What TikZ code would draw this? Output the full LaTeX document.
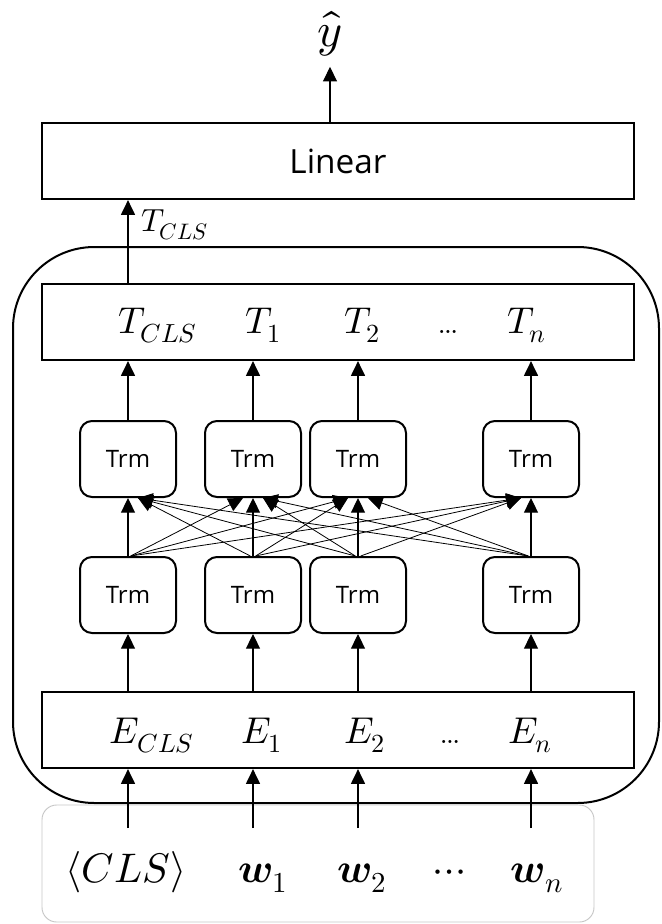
\documentclass[tikz,border=0pt]{standalone}
\usepackage{fontspec}
\usepackage{unicode-math}
\setsansfont{Open Sans}
\setmathfont{Latin Modern Math}
\usetikzlibrary{arrows.meta}

\begin{document}
\begin{tikzpicture}[x=0.75pt,y=-0.75pt,
  wide/.style={draw, line width=1.7pt, minimum width=444pt, minimum height=57pt, inner sep=0pt},
  trm/.style={draw, line width=1.5pt, rounded corners=9pt, minimum width=72pt, minimum height=57pt,
              inner sep=0pt, font=\sffamily\fontsize{18}{20}\selectfont},
  lab/.style={anchor=base, inner sep=0pt, font=\fontsize{28}{32}\selectfont},
  inlab/.style={anchor=base, inner sep=0pt, font=\fontsize{31}{36}\selectfont},
  arr/.style={-{Triangle[length=11pt,width=10.5pt]}, line width=0.8pt},
  cross/.style={-{Triangle[length=11pt,width=10.5pt]}, line width=0.6pt}]
\useasboundingbox (0,0) rectangle (661,924);

% encoder frame and input frame
\draw[line width=1.5pt, rounded corners=61pt] (13,247) rectangle (659,803);
\draw[black!22, line width=0.7pt, rounded corners=11pt] (42,805) rectangle (594,922);

% output head
\node[wide, font=\sffamily\fontsize{25}{30}\selectfont] (linear) at (338,161) {Linear};
\node[inner sep=0pt, font=\fontsize{36}{40}\selectfont] (yhat) at (330,34) {$\hat{y}$};

% token output layer
\node[wide] (tbox) at (338,322) {};
\node[lab] (t0) at (158,333) {$T_{CLS}$};
\node[lab] (t1) at (263,333) {$T_1$};
\node[lab] (t2) at (362,333) {$T_2$};
\node[lab] (tdots) at (448,333) {\ldots};
\node[lab] (tn) at (527,333) {$T_n$};

% embedding layer
\node[wide] (ebox) at (338,730) {};
\node[lab] (e0) at (152,743) {$E_{CLS}$};
\node[lab] (e1) at (262,743) {$E_1$};
\node[lab] (e2) at (365,743) {$E_2$};
\node[lab] (edots) at (450,743) {\ldots};
\node[lab] (en) at (530,743) {$E_n$};

% transformer blocks
\foreach \k/\x in {1/128,2/253,3/358,4/531}{
  \node[trm] (u\k) at (\x,459) {Trm};
  \node[trm] (l\k) at (\x,595) {Trm};
}

% input tokens
\node[inlab] (w0) at (126,882) {$\langle CLS\rangle$};
\node[inlab] (w1) at (263,882) {$\symbfit{w}_1$};
\node[inlab] (w2) at (362,882) {$\symbfit{w}_2$};
\node[inlab] (wdots) at (450,882) {$\cdots$};
\node[inlab] (wn) at (537,882) {$\symbfit{w}_n$};
\foreach \k/\x in {1/128,2/253,3/358,4/531}
  \coordinate (in\k) at (\x,828);

% connectors
\foreach \k in {1,2,3,4}{
  \draw[arr] (in\k) -- (in\k |- ebox.south);
  \draw[arr] (l\k.south |- ebox.north) -- (l\k.south);
  \draw[arr] (u\k.north) -- (u\k.north |- tbox.south);
}
\foreach \i in {1,2,3,4}{
  \foreach \j in {1,2,3,4}{
    \ifnum\i<\j \draw[cross] ([xshift=2pt]l\i.north) -- ([xshift=-7.5pt]u\j.south);\fi
    \ifnum\i>\j \draw[cross] ([xshift=-2pt]l\i.north) -- ([xshift=7.5pt]u\j.south);\fi
    \ifnum\i=\j \draw[arr] (l\i.north) -- (u\j.south);\fi
  }
}
\node[anchor=west, inner sep=0pt, font=\fontsize{24}{28}\selectfont] (tcls) at (141,225) {$T_{CLS}$};
\draw[arr] (u1.north |- tbox.north) -- (u1.north |- linear.south);
\draw[arr] (yhat |- linear.north) -- ([yshift=-7.5pt]yhat.south);
\end{tikzpicture}
\end{document}
